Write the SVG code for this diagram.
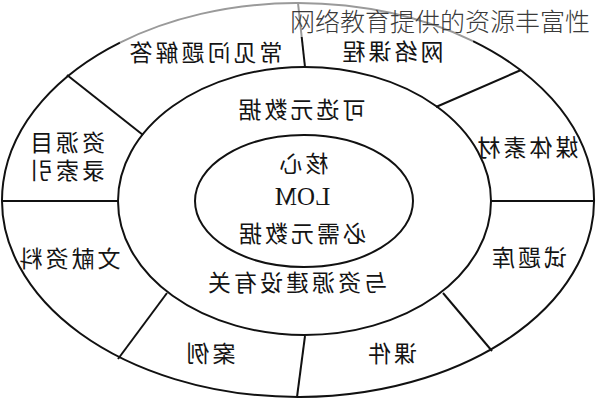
<svg xmlns="http://www.w3.org/2000/svg" width="596" height="400" viewBox="0 0 596 400">
<style>
.ring{fill:none;stroke:#111;stroke-width:2}
.gray{fill:none;stroke:#9a9a9a;stroke-width:2}
.div{stroke:#111;stroke-width:2;fill:none}
.t{font-family:"Noto Sans CJK SC","Noto Sans",sans-serif;font-size:23px;letter-spacing:3px;text-anchor:middle;dominant-baseline:central;fill:#141414}
.lom{font-family:"Liberation Serif",serif;font-size:25px;text-anchor:middle;fill:#141414}
.wm{font-family:"Noto Sans CJK SC","Noto Sans",sans-serif;font-size:25px;font-weight:300;fill:#3a3a3a}
</style>
<rect width="596" height="400" fill="#ffffff"/>
<g id="rings">
<path class="ring" d="M120,42.6 A296,197 0 1 0 473,41.1"/>
<path class="gray" d="M120,42.6 A296,197 0 0 1 473,41.1"/>
<ellipse class="ring" cx="304.5" cy="201" rx="186.5" ry="134"/>
<ellipse class="ring" cx="304" cy="201" rx="109" ry="66"/>
</g>
<g id="connectors">
<line class="gray" x1="298" y1="3" x2="301.7" y2="37"/>
<line class="div" x1="301.7" y1="37" x2="305" y2="67"/>
<line class="div" x1="436" y1="107" x2="521" y2="70"/>
<line class="div" x1="67" y1="75" x2="143" y2="135"/>
<line class="div" x1="2" y1="201" x2="118" y2="201"/>
<line class="div" x1="491" y1="201" x2="594" y2="201"/>
<line class="div" x1="167" y1="293" x2="118" y2="359"/>
<line class="div" x1="305" y1="336" x2="297" y2="397"/>
<line class="div" x1="443" y1="293" x2="492" y2="351"/>
</g>
<g id="node-faq"><text class="t" transform="translate(206,51) scale(-1,1)" x="1.5" y="0">常见问题解答</text></g>
<g id="node-course"><text class="t" transform="translate(393,50) scale(-1,1)" x="1.5" y="0">网络课程</text></g>
<g id="node-optional"><text class="t" transform="translate(302,108) scale(-1,1)" x="1.5" y="0">可选元数据</text></g>
<g id="node-index">
<text class="t" transform="translate(67.5,141) scale(-1,1)" x="1.5" y="0">资源目</text>
<text class="t" transform="translate(67.5,169) scale(-1,1)" x="1.5" y="0">录索引</text>
</g>
<g id="node-media"><text class="t" transform="translate(528,146) scale(-1,1)" x="1.5" y="0">媒体素材</text></g>
<g id="node-core">
<text class="t" transform="translate(304,162) scale(-1,1)" x="1.5" y="0">核心</text>
<text class="lom" transform="translate(302.5,205) scale(-1,1)" x="0" y="0">LOM</text>
<text class="t" transform="translate(302.5,232) scale(-1,1)" x="1.5" y="0">必需元数据</text>
</g>
<g id="node-literature"><text class="t" transform="translate(70,257) scale(-1,1)" x="1.5" y="0">文献资料</text></g>
<g id="node-exam"><text class="t" transform="translate(529.5,256) scale(-1,1)" x="1.5" y="0">试题库</text></g>
<g id="node-construction"><text class="t" transform="translate(297.5,281) scale(-1,1)" x="1.5" y="0">与资源建设有关</text></g>
<g id="node-case"><text class="t" transform="translate(211,352) scale(-1,1)" x="1.5" y="0">案例</text></g>
<g id="node-courseware"><text class="t" transform="translate(392.5,352) scale(-1,1)" x="1.5" y="0">课件</text></g>
<g id="caption"><text class="wm" x="290" y="31">网络教育提供的资源丰富性</text></g>
</svg>
